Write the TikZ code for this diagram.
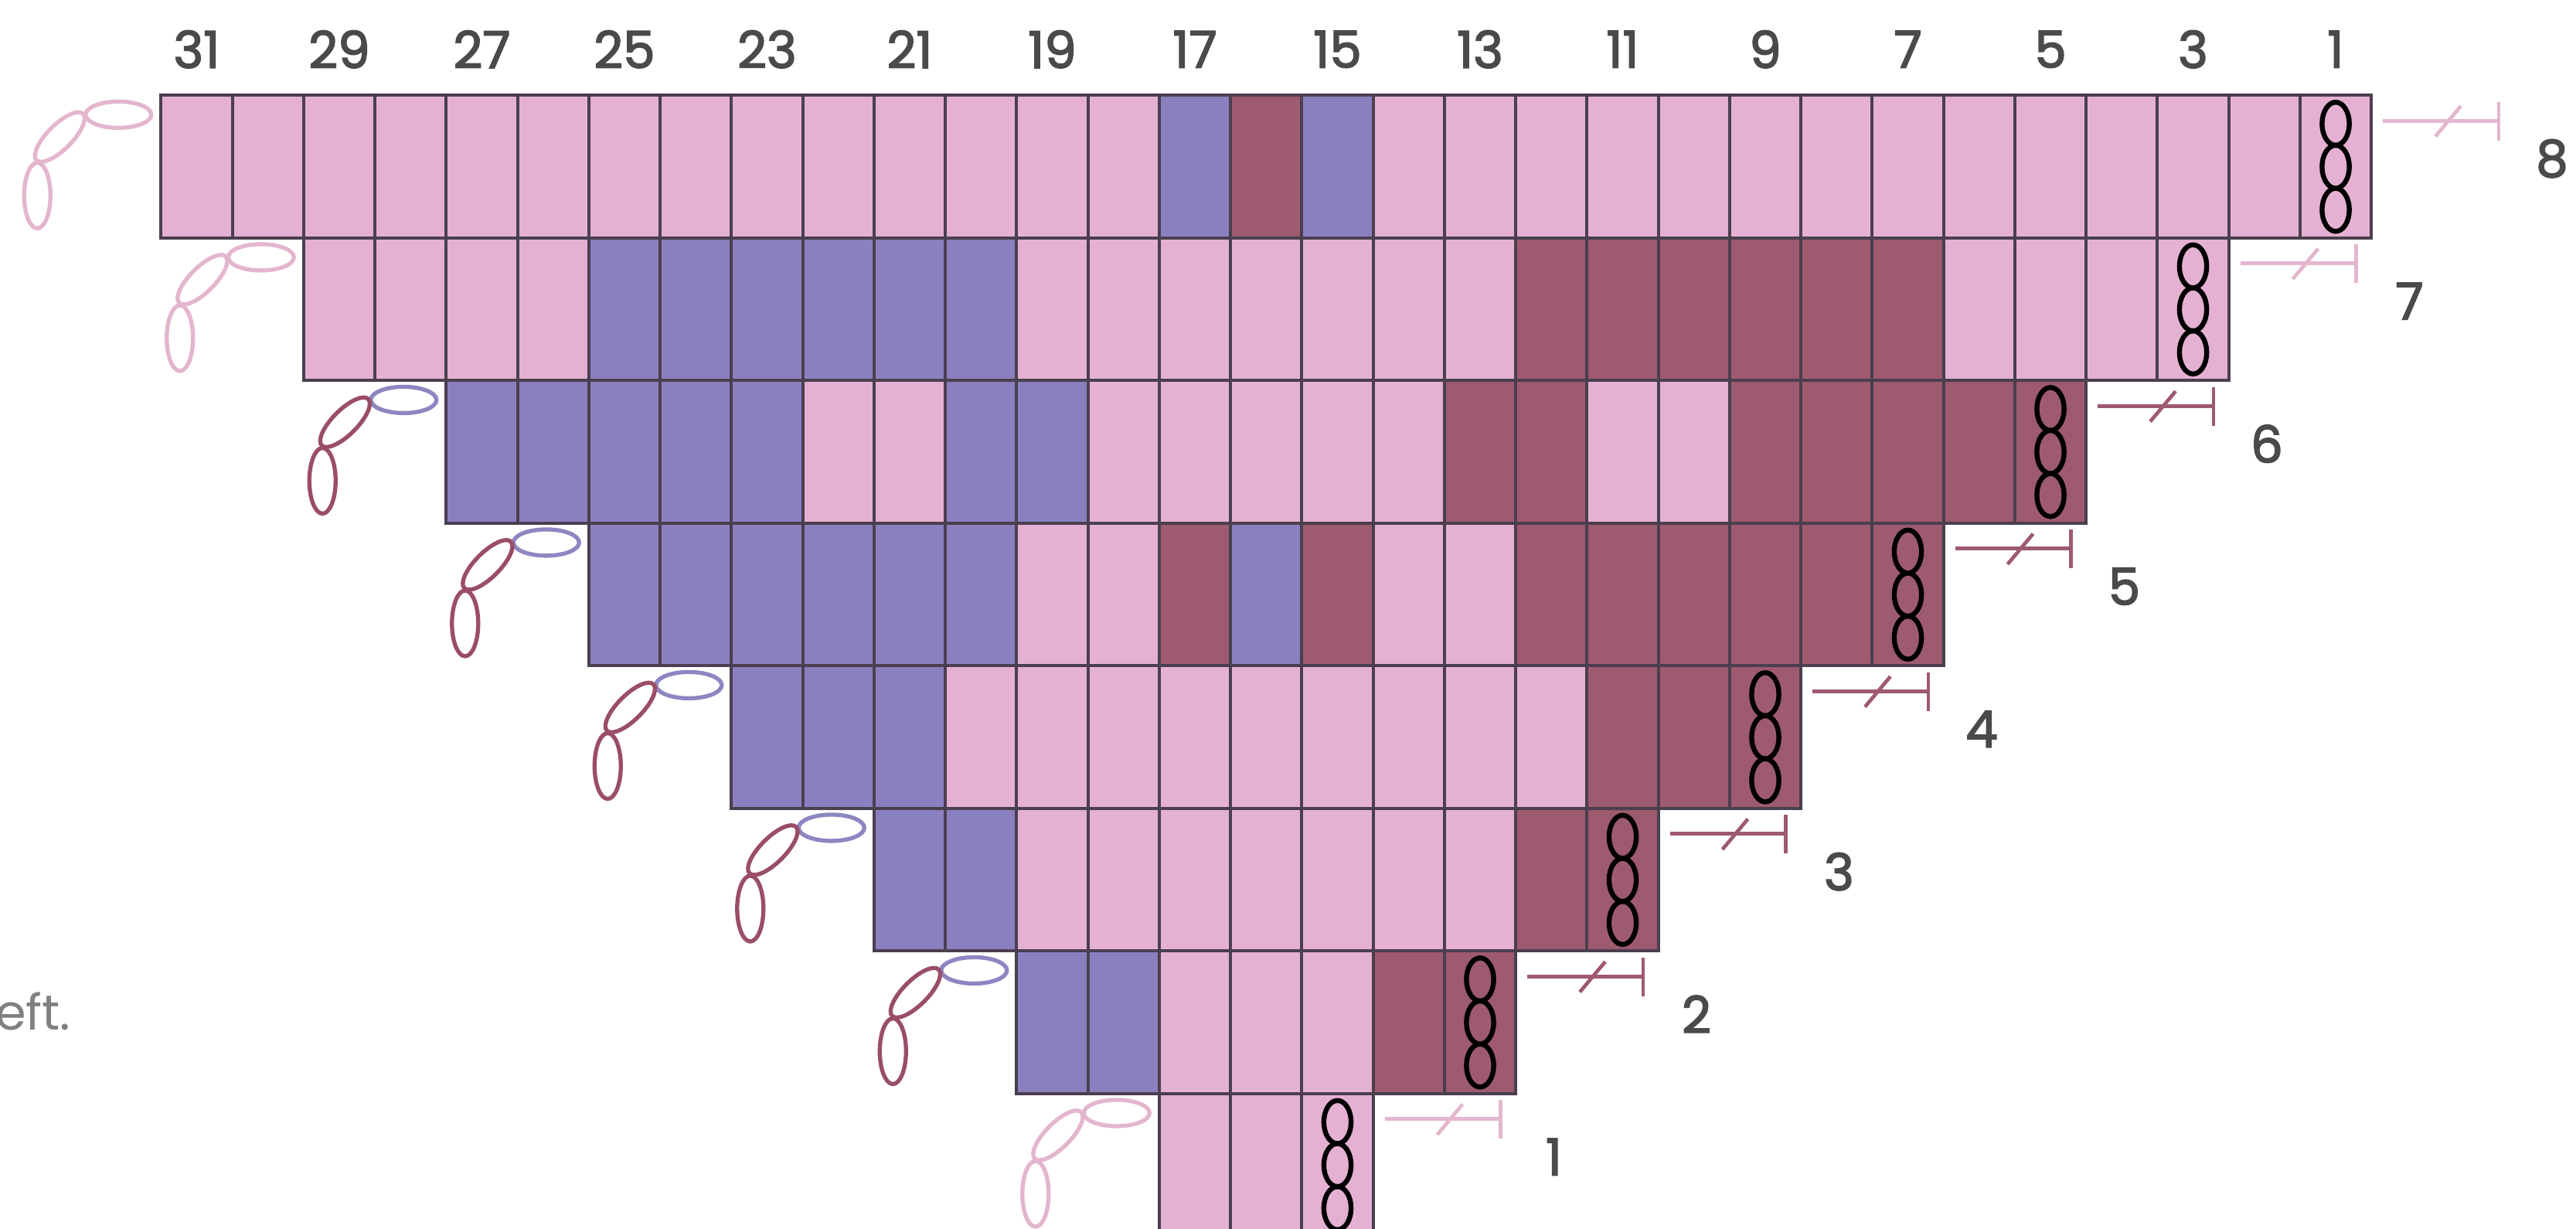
\documentclass[tikz,border=0pt]{standalone}
\usepackage{fontspec}
\setmainfont{Poppins}
\newfontfamily\numfont{Poppins}[FakeBold=2.5]
\definecolor{pk}{HTML}{E5B1D3}
\definecolor{pu}{HTML}{8A80C0}
\definecolor{mr}{HTML}{9E5A6E}
\definecolor{gridc}{HTML}{4A3F4E}
\definecolor{txt}{HTML}{4A4A4A}
\definecolor{lpk}{HTML}{E4B6CE}
\definecolor{lpu}{HTML}{8E86C2}
\definecolor{lmr}{HTML}{9A4E66}
\definecolor{notec}{HTML}{808080}
\tikzset{
  cell/.style={draw=gridc, line width=1.9pt},
  blackchain/.style={draw=black, line width=3pt},
  leftch/.style={line width=2.5pt},
  fo/.style={line width=2.2pt},
  lbl/.style={text=txt, font=\numfont\fontsize{31}{36}\selectfont, inner sep=0pt},
}
\newcommand\crow[5]{%
  \pgfmathsetmacro\rt{58+(8-#1)*86.8}
  \pgfmathsetmacro\xl{98+(8-#1)*86.8}
  \pgfmathsetmacro\xr{1443.4-(8-#1)*86.8}
  \foreach \cc [count=\i from 0] in {#2} {
    \filldraw[cell, fill=\cc] ({\xl+\i*43.4},\rt) rectangle ++(43.4,86.8);
  }
  \foreach \k in {0,1,2} {
    \draw[blackchain] ({\xr-21.7},{\rt+17.3+\k*26.2}) ellipse (8.3 and 13.1);
  }
  \draw[leftch, draw=#4] ({\xl-25.9},{\rt+11.8}) ellipse (20 and 8);
  \draw[leftch, draw=#3, rotate around={45:({\xl-61.6},{\rt+25.4})}] ({\xl-61.6},{\rt+25.4}) ellipse (20 and 7.5);
  \draw[leftch, draw=#3] ({\xl-75.3},{\rt+61}) ellipse (8 and 20);
  \draw[fo, draw=#5] ({\xr+7},{\rt+15.5}) -- ({\xr+77.5},{\rt+15.5});
  \draw[fo, draw=#5] ({\xr+77.5},{\rt+4}) -- ({\xr+77.5},{\rt+27.5});
  \draw[fo, draw=#5] ({\xr+39},{\rt+25}) -- ({\xr+54.5},{\rt+6.5});
  \node[lbl] (row#1) at ({\xr+110},{\rt+38.5}) {#1};
}
\begin{document}
\begin{tikzpicture}[x=1pt, y=-1pt]
\useasboundingbox (0,0) rectangle (1568,748);
\fill[white] (0,0) rectangle (1568,748);
\foreach \c in {31,29,...,1} {
  \pgfmathsetmacro\xc{98+(31-\c)*43.4+21.7}
  \node[lbl] (col\c) at (\xc,30) {\c};
}
\crow{8}{pk,pk,pk,pk,pk,pk,pk,pk,pk,pk,pk,pk,pk,pk,pu,mr,pu,pk,pk,pk,pk,pk,pk,pk,pk,pk,pk,pk,pk,pk,pk}{lpk}{lpk}{lpk}
\crow{7}{pk,pk,pk,pk,pu,pu,pu,pu,pu,pu,pk,pk,pk,pk,pk,pk,pk,mr,mr,mr,mr,mr,mr,pk,pk,pk,pk}{lpk}{lpk}{lpk}
\crow{6}{pu,pu,pu,pu,pu,pk,pk,pu,pu,pk,pk,pk,pk,pk,mr,mr,pk,pk,mr,mr,mr,mr,mr}{lmr}{lpu}{mr}
\crow{5}{pu,pu,pu,pu,pu,pu,pk,pk,mr,pu,mr,pk,pk,mr,mr,mr,mr,mr,mr}{lmr}{lpu}{mr}
\crow{4}{pu,pu,pu,pk,pk,pk,pk,pk,pk,pk,pk,pk,mr,mr,mr}{lmr}{lpu}{mr}
\crow{3}{pu,pu,pk,pk,pk,pk,pk,pk,pk,mr,mr}{lmr}{lpu}{mr}
\crow{2}{pu,pu,pk,pk,pk,mr,mr}{lmr}{lpu}{mr}
\crow{1}{pk,pk,pk}{lpk}{lpk}{lpk}
\node[anchor=base west, text=notec, font=\fontsize{30}{36}\selectfont, inner sep=0pt] (note) at (-3,627) {eft.};
\end{tikzpicture}
\end{document}
